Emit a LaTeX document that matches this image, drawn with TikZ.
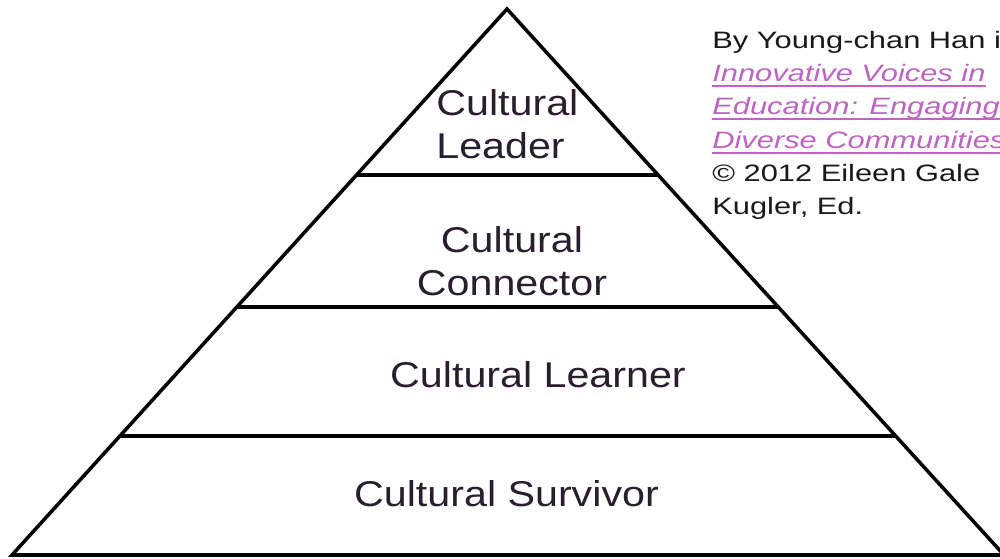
\documentclass[tikz,border=0pt]{standalone}
\usepackage{fontspec}
\setmainfont{Liberation Sans}
\usepackage{graphicx}
\usetikzlibrary{calc}

\definecolor{tiertext}{RGB}{40,30,45}
\definecolor{linkpurple}{RGB}{190,100,195}
\definecolor{credittext}{RGB}{25,25,25}

\newcommand{\tierfont}{\fontsize{20.4}{25}\selectfont}
\newcommand{\creditfont}{\fontsize{13.5}{19}\selectfont}
\newcommand{\stretchx}[2]{\scalebox{#1}[1]{#2}}
\newcommand{\linkline}[1]{\textcolor{linkpurple}{\sbox0{\textit{#1}}\rlap{\rule[-3.2pt]{\wd0}{1.1pt}}\usebox0}}

\begin{document}
\begin{tikzpicture}[
    tier/.style={font=\tierfont, text=tiertext, inner sep=0pt},
    edge/.style={line width=2pt, line join=miter}]
    \useasboundingbox (0,0) rectangle (20,11.16);
    % pyramid outline
    \coordinate (apex) at (10.14,10.98);
    \coordinate (bl) at (0.24,0.06);
    \coordinate (br) at (20.08,0.06);
    \draw[edge] (bl) -- (apex) -- (br) -- cycle;
    % level dividers
    \foreach \t in {0.304,0.546,0.782}
        \draw[edge] ($(apex)!\t!(bl)$) -- ($(apex)!\t!(br)$);
    % tiers
    \node[tier, anchor=base west] (leader) at (8.72,8.86)
        {\stretchx{1.15}{\begin{tabular}[t]{@{}l@{}}Cultural\\Leader\end{tabular}}};
    \node[tier, anchor=base] (connector) at (10.24,6.12)
        {\stretchx{1.15}{\begin{tabular}[t]{@{}c@{}}Cultural\\Connector\end{tabular}}};
    \node[tier, anchor=base] (learner) at (10.76,3.42)
        {\stretchx{1.15}{Cultural Learner}};
    \node[tier, anchor=base] (survivor) at (10.13,1.04)
        {\stretchx{1.15}{Cultural Survivor}};
    % source note
    \node[font=\creditfont, text=credittext, inner sep=0pt, anchor=base west] (credit) at (14.24,10.2)
        {\stretchx{1.3}{\begin{tabular}[t]{@{}l@{}}By Young-chan Han in\\
        \linkline{Innovative Voices in}\\
        \linkline{Education: Engaging}\\
        \linkline{Diverse Communities}\\
        © 2012 Eileen Gale\\
        Kugler, Ed.\end{tabular}}};
\end{tikzpicture}
\end{document}
